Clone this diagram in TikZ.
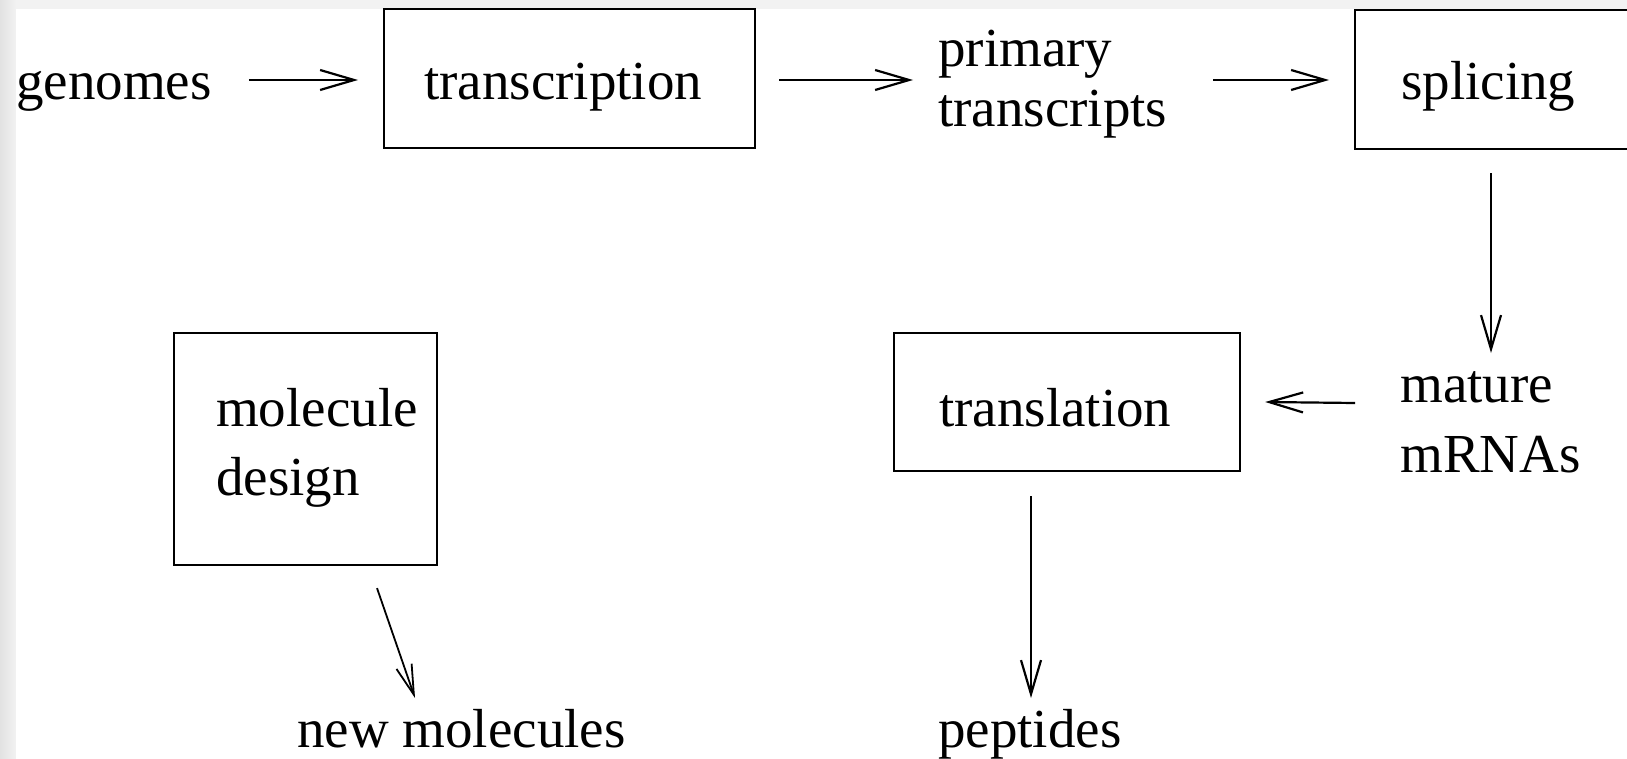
\documentclass[tikz,border=0pt]{standalone}
\usepackage{fontspec}
\setmainfont{Liberation Serif}
\usetikzlibrary{arrows.meta,calc}
\definecolor{bggray}{RGB}{242,242,242}
\definecolor{leftdark}{RGB}{226,226,226}
\begin{document}
\begin{tikzpicture}[x=1pt,y=-1pt,
  every node/.style={font=\fontsize{55pt}{66pt}\selectfont, inner sep=0pt},
  lbl/.style={anchor=base west, align=left},
  box/.style={draw, line width=2.2pt, anchor=base west, align=left, inner ysep=0pt},
  arr/.style={line width=2.2pt, -{Straight Barb[length=34pt,width=20pt,line width=2.2pt]}},
  arrthin/.style={line width=1.8pt, -{Straight Barb[length=30pt,width=16pt,line width=1.8pt]}},
]
\useasboundingbox (0,0) rectangle (1627,759);
\clip (0,0) rectangle (1627,759);
\fill[bggray] (0,0) rectangle (1627,759);
\shade[left color=leftdark, right color=bggray] (0,0) rectangle (16,759);
\fill[white] (16,9) rectangle (1627,759);

\node[lbl] (genomes) at (16,100) {genomes};
\node[box, inner xsep=40pt, text width=291pt, text height=91pt, text depth=48pt] (trans) at (383,100) {transcription};
\node[lbl, text width=260pt, font=\fontsize{55pt}{60pt}\selectfont] (prim) at (938,67) {primary\\transcripts};
\node[box, inner xsep=46pt, text width=214pt, text height=90pt, text depth=49pt] (splice) at (1354,100) {splicing};
\node[lbl, text width=200pt, font=\fontsize{55pt}{70pt}\selectfont] (mature) at (1400,402) {mature\\mRNAs};
\node[box, inner xsep=45pt, text width=256pt, text height=93pt, text depth=45pt] (transl) at (893,426) {translation};
\node[box, inner xsep=42pt, text width=179pt, text height=93pt, text depth=139pt, font=\fontsize{55pt}{69pt}\selectfont] (mol) at (173,426) {molecule\\design};
\node[lbl] (pep) at (938,747) {peptides};
\node[lbl] (newmol) at (297,747) {new molecules};

\draw[arr] ($(genomes.base east)+(37pt,20pt)$) -- ($(trans.base west)+(-25pt,20pt)$);
\draw[arr] ($(trans.base east)+(23pt,20pt)$) -- ($(prim.base west)+(-25pt,-13pt)$);
\draw[arr] ($(prim.base west)+(275pt,-13pt)$) -- ($(splice.base west)+(-25pt,20pt)$);
\draw[arr] ($(splice.south west)+(137pt,-23pt)$) -- ($(mature.base west)+(91pt,49pt)$);
\draw[arr] ($(mature.base west)+(-45pt,-1pt)$) -- ($(transl.base east)+(24pt,24pt)$);
\draw[arr] ($(transl.south west)+(138pt,-24pt)$) -- ($(pep.base west)+(93pt,49pt)$);
\draw[arrthin] ($(mol.south west)+(204pt,-22pt)$) -- ($(newmol.base west)+(118pt,49pt)$);
\end{tikzpicture}
\end{document}
